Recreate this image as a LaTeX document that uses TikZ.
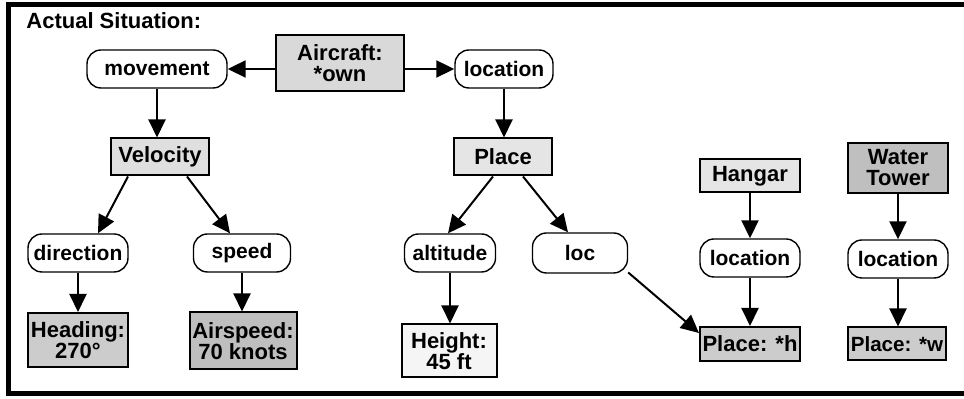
\documentclass[tikz,border=0pt]{standalone}
\usepackage{fontspec}
\setmainfont{Liberation Sans}
\usetikzlibrary{arrows.meta}

\begin{document}
\begin{tikzpicture}[x=0.5pt, y=-0.5pt,
  concept/.style={draw, line width=1pt, fill=gray!30, align=center, inner sep=0pt,
    font=\bfseries\fontsize{11}{10.5}\selectfont},
  relation/.style={draw, line width=0.7pt, rounded corners=7pt, fill=white, inner sep=0pt,
    minimum height=19pt, font=\bfseries\fontsize{10.5}{10.5}\selectfont},
  arc/.style={-{Triangle[length=9pt, width=8.5pt]}, line width=1pt}]
  % units are pixels of the 964x399 frame, y grows downwards
  \useasboundingbox (0,0) rectangle (964,399);
  \draw[line width=2.5pt] (975,5) -- (8,5) -- (8,394) -- (975,394);
  \node[anchor=west, inner sep=0pt, font=\bfseries\fontsize{11}{12}\selectfont] (title) at (26,21) {Actual Situation:};

  \node[concept, minimum width=64pt, minimum height=28pt] (aircraft) at (340,63) {Aircraft:\\*own};
  \node[relation, minimum width=70pt] (movement) at (157,69) {movement};
  \node[relation, minimum width=49pt] (location) at (504,69) {location};
  \node[concept, minimum width=49pt, minimum height=18.5pt, fill=gray!25] (velocity) at (160,157) {Velocity};
  \node[concept, minimum width=49pt, minimum height=18.5pt, fill=gray!20] (place) at (503,157) {Place};
  \node[concept, minimum width=50pt, minimum height=16.5pt, fill=gray!20] (hangar) at (750,176) {Hangar};
  \node[concept, minimum width=50pt, minimum height=25pt, fill=gray!50] (tower) at (898,168) {Water\\Tower};
  \node[relation, minimum width=50pt] (direction) at (78,253) {direction};
  \node[relation, minimum width=48.5pt] (speed) at (242,253) {speed};
  \node[relation, minimum width=45.5pt] (altitude) at (450,253) {altitude};
  \node[relation, minimum width=47.5pt, minimum height=20pt] (loc) at (580,253) {loc};
  \node[relation, minimum width=50pt] (hloc) at (750,258) {location};
  \node[relation, minimum width=50pt] (wloc) at (898,259) {location};
  \node[concept, minimum width=50pt, minimum height=27pt, fill=gray!40] (heading) at (78,340) {Heading:\\270°};
  \node[concept, minimum width=53.5pt, minimum height=28.5pt, fill=gray!50] (airspeed) at (243,341) {Airspeed:\\70 knots};
  \node[concept, minimum width=47.5pt, minimum height=26.5pt, fill=gray!8] (height) at (449,351) {Height:\\45 ft};
  \node[concept, minimum width=50pt, minimum height=17pt, fill=gray!40] (placeh) at (750,344) {Place: *h};
  \node[concept, minimum width=49pt, minimum height=16.5pt, fill=gray!40,
    font=\bfseries\fontsize{10.3}{10.5}\selectfont] (placew) at (897,344) {Place: *w};

  \draw[arc] (aircraft.west |- movement.east) -- (movement.east);
  \draw[arc] (aircraft.east |- location.west) -- (location.west);
  \draw[arc] (movement.south) -- (movement.south |- velocity.north);
  \draw[arc] ([xshift=-16pt]velocity.south) -- ([xshift=10pt]direction.north);
  \draw[arc] ([xshift=13.5pt]velocity.south) -- ([xshift=-6pt]speed.north);
  \draw[arc] (direction.south) -- (heading.north);
  \draw[arc] (speed.south) -- (speed.south |- airspeed.north);
  \draw[arc] (location.south) -- (location.south |- place.north);
  \draw[arc] ([xshift=-5pt]place.south) -- ([xshift=-1pt]altitude.north);
  \draw[arc] ([xshift=10pt]place.south) -- ([xshift=-6pt]loc.north);
  \draw[arc] (altitude.south) -- (altitude.south |- height.north);
  \draw[arc] (loc.-22) -- ([yshift=5.5pt]placeh.west);
  \draw[arc] (hangar.south) -- (hloc.north);
  \draw[arc] (hloc.south) -- (placeh.north);
  \draw[arc] (tower.south) -- (wloc.north);
  \draw[arc] (wloc.south) -- (wloc.south |- placew.north);
\end{tikzpicture}
\end{document}
